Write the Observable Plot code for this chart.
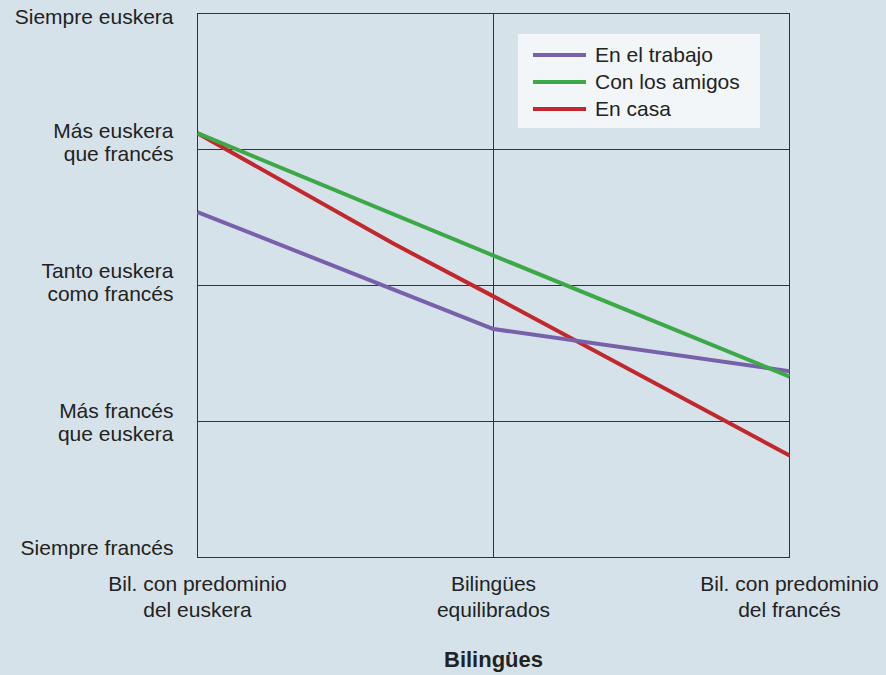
<!DOCTYPE html>
<html>
<head>
<meta charset="utf-8">
<script src="https://cdn.jsdelivr.net/npm/d3@7"></script>
<script src="https://cdn.jsdelivr.net/npm/@observablehq/plot@0.6"></script>
<style>
  html, body { margin: 0; padding: 0; background: #d6e2e9; }
  #wrap { position: relative; width: 886px; height: 675px; font-family: "Liberation Sans", Arial, sans-serif; }
  #legend { position: absolute; left: 518px; top: 34px; width: 242px; height: 94px; background: #f3f6f9; }
  .item { position: absolute; left: 0; height: 26px; display: flex; align-items: center; font-size: 21px; color: #222; }
  .sw { width: 53px; height: 4px; margin-left: 15px; margin-right: 9px; }
</style>
</head>
<body>
<div id="wrap"></div>
<script>
const xCategories = ["Bil. con predominio\ndel euskera", "Bilingües\nequilibrados", "Bil. con predominio\ndel francés"];
const xTicks = [0, 1, 2];
const yLabels = ["Siempre francés", "Más francés\nque euskera", "Tanto euskera\ncomo francés", "Más euskera\nque francés", "Siempre euskera"];
const yTicks = [1, 2, 3, 4, 5];
const yLabelShift = [-10, 1, -3, -7, 3];
const seriesNames = ["En el trabajo", "Con los amigos", "En casa"];
const seriesColors = ["#7860ab", "#3da848", "#c1272d"];

const trabajoX = [0, 1, 2];
const trabajoY = [3.54, 2.68, 2.37];
const amigosX = [0, 1, 2];
const amigosY = [4.12, 3.22, 2.33];
const casaX = [0, 0.66, 1, 2];
const casaY = [4.12, 3.31, 2.92, 1.75];
const axisTitle = "Bilingües";

const rows = [];
casaX.forEach((x, i) => rows.push({series: "En casa", x, y: casaY[i]}));
trabajoX.forEach((x, i) => rows.push({series: "En el trabajo", x, y: trabajoY[i]}));
amigosX.forEach((x, i) => rows.push({series: "Con los amigos", x, y: amigosY[i]}));

const yAxes = yTicks.map((t, i) => Plot.axisY([t], {
  tickSize: 0, tickPadding: 24, tickFormat: d => yLabels[d - 1], lineHeight: 1.1,
  fontSize: 21, label: null, fill: "#222", dy: yLabelShift[i]
}));

const chart = Plot.plot({
  width: 886,
  height: 675,
  marginLeft: 197,
  marginRight: 97,
  marginTop: 13,
  marginBottom: 118,
  style: {background: "#d6e2e9", fontFamily: "'Liberation Sans', Arial, sans-serif", fontSize: "21px", color: "#222"},
  x: {domain: [0, 2]},
  y: {domain: [1, 5]},
  color: {domain: seriesNames, range: seriesColors},
  marks: [
    Plot.ruleY([2, 3, 4], {stroke: "#333", strokeWidth: 1, strokeOpacity: 1}),
    Plot.ruleX([1], {stroke: "#333", strokeWidth: 1, strokeOpacity: 1}),
    Plot.frame({stroke: "#333", strokeWidth: 1}),
    ...yAxes,
    Plot.axisX(xTicks, {tickSize: 0, tickPadding: 15, tickFormat: d => xCategories[d], lineHeight: 1.24, fontSize: 21, label: null, fill: "#222"}),
    Plot.line(rows.filter(d => d.series === "En casa"), {x: "x", y: "y", stroke: "series", strokeWidth: 4, strokeLinecap: "butt"}),
    Plot.line(rows.filter(d => d.series === "En el trabajo"), {x: "x", y: "y", stroke: "series", strokeWidth: 4, strokeLinecap: "butt"}),
    Plot.line(rows.filter(d => d.series === "Con los amigos"), {x: "x", y: "y", stroke: "series", strokeWidth: 4, strokeLinecap: "butt"}),
    Plot.text([axisTitle], {frameAnchor: "bottom", dy: 94, lineAnchor: "top", fontWeight: "bold", fontSize: 22, fill: "#222"})
  ]
});

const wrap = document.getElementById("wrap");
wrap.appendChild(chart);

const legend = document.createElement("div");
legend.id = "legend";
const tops = [8, 35, 62];
seriesNames.forEach((name, i) => {
  const item = document.createElement("div");
  item.className = "item";
  item.style.top = tops[i] + "px";
  const sw = document.createElement("span");
  sw.className = "sw";
  sw.style.background = seriesColors[i];
  const label = document.createElement("span");
  label.textContent = name;
  item.appendChild(sw);
  item.appendChild(label);
  legend.appendChild(item);
});
wrap.appendChild(legend);
</script>
</body>
</html>
